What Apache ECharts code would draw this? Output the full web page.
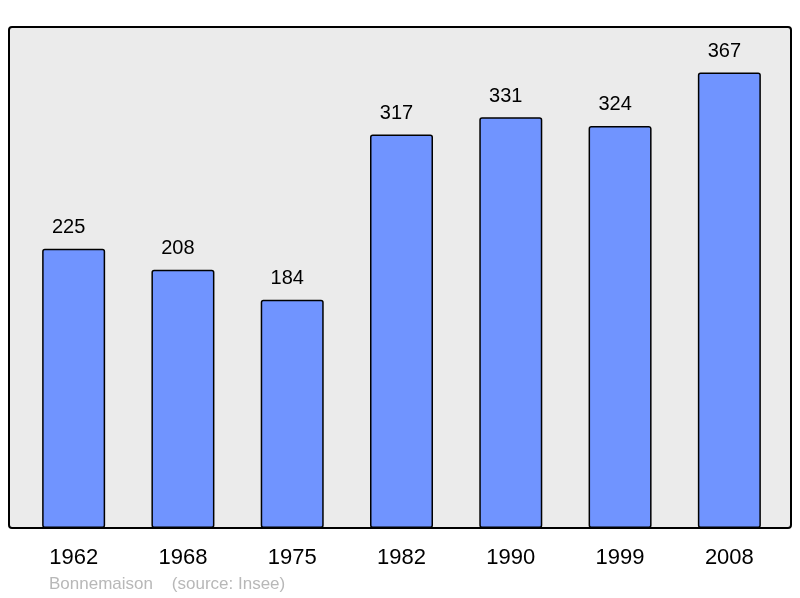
<!DOCTYPE html>
<html lang="fr">
<head>
    <meta charset="UTF-8">
    <title>Bonnemaison</title>
    <script src="https://cdnjs.cloudflare.com/ajax/libs/echarts/6.0.0/echarts.min.js"></script>
    <style>
        html, body { margin: 0; padding: 0; background: #fff; }
    </style>
</head>
<body>
    <div id="myChart" style="width: 800px;height: 598px;"></div>

    <script>
        // données
        const annees = ['1962', '1968', '1975', '1982', '1990', '1999', '2008'];
        const population = [225, 208, 184, 317, 331, 324, 367];

        const chart = echarts.init(document.getElementById('myChart'));
        const option = {
            animation: false,
            graphic: [
                {
                    type: 'rect',
                    z: -1,
                    shape: { x: 9, y: 27, width: 782, height: 501, r: 3 },
                    style: { fill: '#ebebeb', stroke: '#000', lineWidth: 2 }
                },
                {
                    type: 'text',
                    left: 49,
                    top: 576,
                    style: {
                        text: 'Bonnemaison    (source: Insee)',
                        fill: '#b8b8b8',
                        font: '17px "Liberation Sans", Arial, sans-serif'
                    }
                }
            ],
            grid: { left: 19, right: 16, top: 27, bottom: 70 },
            xAxis: {
                type: 'category',
                data: annees,
                axisLine: { show: false },
                axisTick: { show: false },
                axisLabel: {
                    margin: 19,
                    color: '#000',
                    fontSize: 22,
                    fontFamily: '"Liberation Sans", Arial, sans-serif'
                }
            },
            yAxis: {
                type: 'value',
                min: 0,
                max: 403.7,
                show: false,
                splitLine: { show: false }
            },
            series: [{
                type: 'bar',
                data: population,
                barWidth: 63,
                itemStyle: {
                    color: '#7094ff',
                    borderColor: '#000',
                    borderWidth: 1.5,
                    borderRadius: 2
                },
                label: {
                    show: true,
                    position: 'top',
                    distance: 11,
                    offset: [-5, 0],
                    color: '#000',
                    fontSize: 20,
                    fontFamily: '"Liberation Sans", Arial, sans-serif'
                }
            }]
        };
        chart.setOption(option);
    </script>
</body>
</html>
